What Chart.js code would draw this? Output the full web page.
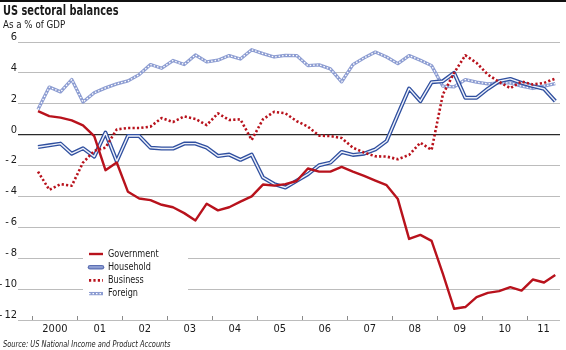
<!DOCTYPE html>
<html><head><meta charset="utf-8">
<script src="https://cdn.jsdelivr.net/npm/chart.js@4/dist/chart.umd.min.js"></script>
<style>
html,body{margin:0;padding:0;background:#fff;}
body{width:566px;height:350px;position:relative;overflow:hidden;font-family:"Liberation Sans Narrow","DejaVu Sans Condensed",sans-serif;color:#1a1a1a;}
#bar{position:absolute;left:0;top:0;width:566px;height:2px;background:#111;}
.t{position:absolute;left:3px;transform-origin:0 0;white-space:nowrap;}
#title{top:2px;font-weight:bold;font-size:14px;line-height:16px;transform:scaleX(0.78);}
#sub{top:18px;font-size:11px;line-height:13px;transform:scaleX(0.88);}
#src{top:339px;font-size:9px;line-height:10px;font-style:italic;transform:scaleX(0.82);}
canvas{position:absolute;left:0;top:0;}
</style></head><body>
<canvas id="c" width="566" height="350"></canvas>
<div id="bar"></div>
<div id="title" class="t">US sectoral balances</div>
<div id="sub" class="t">As a % of GDP</div>
<div id="src" class="t">Source: US National Income and Product Accounts</div>
<script>
const quarters = ['2000Q1','2000Q2','2000Q3','2000Q4','2001Q1','2001Q2','2001Q3','2001Q4',
 '2002Q1','2002Q2','2002Q3','2002Q4','2003Q1','2003Q2','2003Q3','2003Q4',
 '2004Q1','2004Q2','2004Q3','2004Q4','2005Q1','2005Q2','2005Q3','2005Q4',
 '2006Q1','2006Q2','2006Q3','2006Q4','2007Q1','2007Q2','2007Q3','2007Q4',
 '2008Q1','2008Q2','2008Q3','2008Q4','2009Q1','2009Q2','2009Q3','2009Q4',
 '2010Q1','2010Q2','2010Q3','2010Q4','2011Q1','2011Q2','2011Q3'];
const government = [1.53,1.2,1.1,0.92,0.6,-0.1,-2.3,-1.8,-3.7,-4.13,-4.24,-4.54,-4.7,-5.08,-5.55,-4.47,-4.9,-4.7,-4.34,-4.0,-3.23,-3.3,-3.2,-3.0,-2.19,-2.39,-2.39,-2.09,-2.39,-2.67,-2.97,-3.27,-4.17,-6.75,-6.49,-6.88,-9.0,-11.27,-11.16,-10.52,-10.24,-10.13,-9.87,-10.1,-9.38,-9.57,-9.08];
const household = [-0.8,-0.69,-0.58,-1.23,-0.88,-1.42,0.13,-1.72,-0.09,-0.09,-0.84,-0.9,-0.9,-0.58,-0.58,-0.84,-1.38,-1.29,-1.63,-1.29,-2.77,-3.2,-3.42,-2.99,-2.56,-1.98,-1.81,-1.12,-1.31,-1.23,-0.95,-0.41,1.31,2.99,2.17,3.4,3.46,4.0,2.39,2.39,2.97,3.46,3.61,3.35,3.14,2.97,2.17];
const business = [-2.39,-3.57,-3.2,-3.31,-1.81,-1.05,-0.84,0.34,0.43,0.43,0.52,1.08,0.82,1.18,1.02,0.62,1.38,0.95,0.99,-0.34,0.99,1.48,1.38,0.88,0.52,-0.06,-0.09,-0.22,-0.84,-1.16,-1.4,-1.42,-1.59,-1.31,-0.52,-0.99,2.6,4.0,5.14,4.65,3.89,3.42,3.01,3.44,3.25,3.35,3.63];
const foreign = [1.63,3.08,2.77,3.57,2.11,2.71,3.03,3.29,3.48,3.89,4.54,4.3,4.8,4.54,5.16,4.71,4.82,5.12,4.9,5.5,5.25,5.03,5.14,5.12,4.47,4.52,4.26,3.42,4.54,4.97,5.35,5.03,4.6,5.12,4.82,4.47,3.14,3.1,3.57,3.4,3.29,3.35,3.35,3.14,2.99,3.14,3.31];
const years = [2000,2001,2002,2003,2004,2005,2006,2007,2008,2009,2010,2011];
const yearLabels = ['2000','01','02','03','04','05','06','07','08','09','10','11'];
const X_MIN = 1999.68, X_MAX = 2011.73;

function qx(q){ const y = +q.slice(0,4), n = +q.slice(5); return y + (n - 0.5) / 4; }
function pts(arr){ return arr.map((v,i)=>({x: qx(quarters[i]), y: v})); }

const RED = '#b8121c', BLUE = '#2f4f9f', LBLUE = '#8d9dd2';
const FONT = '"Liberation Sans Narrow","DejaVu Sans Condensed",sans-serif';

const base = {pointRadius:0, fill:false, tension:0, borderCapStyle:'butt', borderJoinStyle:'round'};
const datasets = [
  Object.assign({label:'Government', data:pts(government), borderColor:RED, borderWidth:2.4, order:0, legendKind:'solid'}, base),
  Object.assign({label:'Business', data:pts(business), borderColor:RED, borderWidth:2.6, borderDash:[2.2,2.2], order:1, legendKind:'dot'}, base),
  Object.assign({label:'Household_inner', data:pts(household), borderColor:'#eef1fa', borderWidth:1.4, order:2, skip:true}, base),
  Object.assign({label:'Household', data:pts(household), borderColor:BLUE, borderWidth:4.0, order:3, legendKind:'double'}, base),
  Object.assign({label:'Foreign_inner', data:pts(foreign), borderColor:'#ffffff', borderWidth:1.3, borderDash:[1.5,2.0], order:4, skip:true}, base),
  Object.assign({label:'Foreign', data:pts(foreign), borderColor:LBLUE, borderWidth:3.3, order:5, legendKind:'ring'}, base)
];

const legendOrder = ['Government','Household','Business','Foreign'];

const extras = {
  id:'extras',
  afterDraw(chart){
    const ctx = chart.ctx, xs = chart.scales.x, area = chart.chartArea;
    ctx.save();
    ctx.strokeStyle = '#8a8a8a'; ctx.lineWidth = 1;
    years.forEach(y=>{
      const px = Math.round(xs.getPixelForValue(y)) + 0.5;
      ctx.beginPath(); ctx.moveTo(px, area.bottom); ctx.lineTo(px, area.bottom - 4); ctx.stroke();
    });
    const lx = 83, ly = 246, lw = 105, lh = 53;
    ctx.fillStyle = '#fff'; ctx.fillRect(lx, ly, lw, lh);
    ctx.font = '11px ' + FONT; ctx.textBaseline = 'middle'; ctx.fillStyle = '#1a1a1a';
    legendOrder.forEach((name,i)=>{
      const ds = chart.data.datasets.find(d=>d.label===name);
      const cy = 254 + i*13.2, x0 = 89, x1 = 103;
      ctx.save();
      if (ds.legendKind==='solid'){ ctx.strokeStyle = RED; ctx.lineWidth = 2.4; ctx.beginPath(); ctx.moveTo(x0,cy); ctx.lineTo(x1,cy); ctx.stroke(); }
      else if (ds.legendKind==='double'){ ctx.lineCap='round'; ctx.strokeStyle = '#5d70b3'; ctx.lineWidth = 4.5; ctx.beginPath(); ctx.moveTo(x0+1,cy); ctx.lineTo(x1-1,cy); ctx.stroke(); ctx.strokeStyle='#8d9dd2'; ctx.lineWidth=2.2; ctx.beginPath(); ctx.moveTo(x0+1,cy); ctx.lineTo(x1-1,cy); ctx.stroke(); }
      else if (ds.legendKind==='dot'){ ctx.strokeStyle = RED; ctx.lineWidth = 2.6; ctx.setLineDash([2.2,2.2]); ctx.beginPath(); ctx.moveTo(x0,cy); ctx.lineTo(x1,cy); ctx.stroke(); }
      else { ctx.strokeStyle = LBLUE; ctx.lineWidth = 3.3; ctx.beginPath(); ctx.moveTo(x0,cy); ctx.lineTo(x1,cy); ctx.stroke(); ctx.strokeStyle='#fff'; ctx.lineWidth=1.3; ctx.setLineDash([1.5,2.0]); ctx.beginPath(); ctx.moveTo(x0,cy); ctx.lineTo(x1,cy); ctx.stroke(); }
      ctx.restore();
      ctx.save(); ctx.translate(108, cy); ctx.scale(0.82, 1); ctx.fillText(name, 0, 0); ctx.restore();
    });
    ctx.restore();
  }
};

new Chart(document.getElementById('c'), {
  type:'line',
  data:{datasets},
  options:{
    responsive:false, animation:false, devicePixelRatio:1,
    layout:{padding:{left:0, right:6, top:42, bottom:0}},
    plugins:{legend:{display:false}, tooltip:{enabled:false}, title:{display:false}},
    scales:{
      x:{
        type:'linear', min:X_MIN, max:X_MAX,
        afterBuildTicks(scale){
          scale.ticks = years.map(y=>({value:(y + Math.min(y+1, X_MAX))/2}));
        },
        afterFit(scale){ scale.height = 30; },
        grid:{display:false, drawTicks:false},
        border:{display:false},
        ticks:{autoSkip:false, maxRotation:0, padding:3, color:'#1a1a1a', font:{family:FONT, size:11},
          callback:(v,i)=>yearLabels[i]}
      },
      y:{
        min:-12, max:6,
        afterFit(scale){ scale.width = 18; },
        grid:{drawTicks:false, color:(c)=>c.tick && c.tick.value===0 ? '#2a2a2a' : '#bcbcbc', lineWidth:(c)=>c.tick && c.tick.value===0 ? 1.3 : 1},
        border:{display:false},
        ticks:{stepSize:2, padding:1, labelOffset:-5, color:'#1a1a1a', font:{family:FONT, size:11},
          callback:(v)=> v<0 ? '-\u2009' + Math.abs(v) : String(v)}
      }
    }
  },
  plugins:[extras]
});
</script>
</body></html>
